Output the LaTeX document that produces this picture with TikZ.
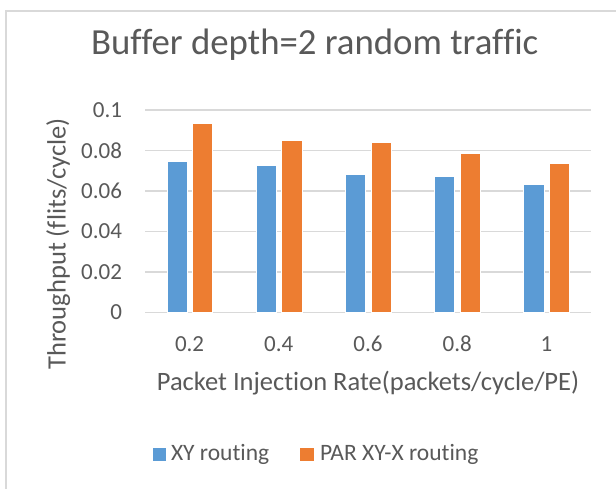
\documentclass[tikz,border=0pt]{standalone}
\usepackage{fontspec}
\setmainfont{Carlito}[Ligatures={NoCommon}]
\definecolor{txtc}{HTML}{595959}
\definecolor{gridc}{HTML}{D9D9D9}
\definecolor{xyb}{HTML}{5B9BD5}
\definecolor{paro}{HTML}{ED7D31}
\begin{document}
\begin{tikzpicture}[x=1pt,y=-1pt,
  lbl/.style={text=txtc, inner sep=0pt, outer sep=0pt},
  ticklbl/.style={lbl, font=\fontsize{23}{23}\selectfont},
  axtitle/.style={lbl, font=\fontsize{26.5}{26.5}\selectfont},
  leglbl/.style={lbl, font=\fontsize{23.5}{23.5}\selectfont, anchor=base west},
  gridline/.style={draw=gridc, line width=1.5pt},
  barxy/.style={fill=xyb, draw=white, line width=0.4pt},
  barpar/.style={fill=paro, draw=white, line width=0.4pt}]
\useasboundingbox (0,0) rectangle (616,489);
\fill[white] (0,0) rectangle (616,489);
\draw[draw=gridc, line width=1.3pt] (6,489) -- (6,11) -- (616,11);
% title
\node[lbl, font=\fontsize{36.8}{36.8}\selectfont, anchor=base] (title) at (314.7,55) {Buffer depth=2 random traffic};
% gridlines and y tick labels
\foreach \i/\t in {0/0,1/0.02,2/0.04,3/0.06,4/0.08,5/0.1}{
  \draw[gridline] (145,{312.3-40.46*\i}) -- (591,{312.3-40.46*\i});
  \node[ticklbl, anchor=east] (yt\i) at (122,{312.3-40.46*\i}) {\t};
}
% bars
\foreach \c/\a/\b/\t in {0/0.0746/0.0934/0.2, 1/0.0728/0.0852/0.4, 2/0.0684/0.0840/0.6, 3/0.0672/0.0784/0.8, 4/0.0634/0.0736/1}{
  \pgfmathsetmacro{\cx}{189.6+89.2*\c}
  \path[barxy] ({\cx-22.9},312.3) rectangle ({\cx-2.6},{312.3-2023*\a});
  \path[barpar] ({\cx+2.7},312.3) rectangle ({\cx+22.9},{312.3-2023*\b});
  \node[ticklbl, anchor=base] (xt\c) at (\cx,351.5) {\t};
}
% axis titles
\node[axtitle, anchor=base] (xtitle) at (368,390.7) {Packet Injection Rate(packets/cycle/PE)};
\node[axtitle, anchor=base, rotate=90] (ytitle) at (65.7,244) {Throughput (flits/cycle)};
% legend
\node[fill=xyb, minimum size=13.3pt, inner sep=0pt, anchor=north west] (lgxy) at (152.3,447.7) {};
\node[leglbl] (lgxyt) at (171,460.7) {XY routing};
\node[fill=paro, minimum size=13.3pt, inner sep=0pt, anchor=north west] (lgpar) at (300,447.7) {};
\node[leglbl] (lgpart) at (320,460.7) {PAR XY-X routing};
\end{tikzpicture}
\end{document}
